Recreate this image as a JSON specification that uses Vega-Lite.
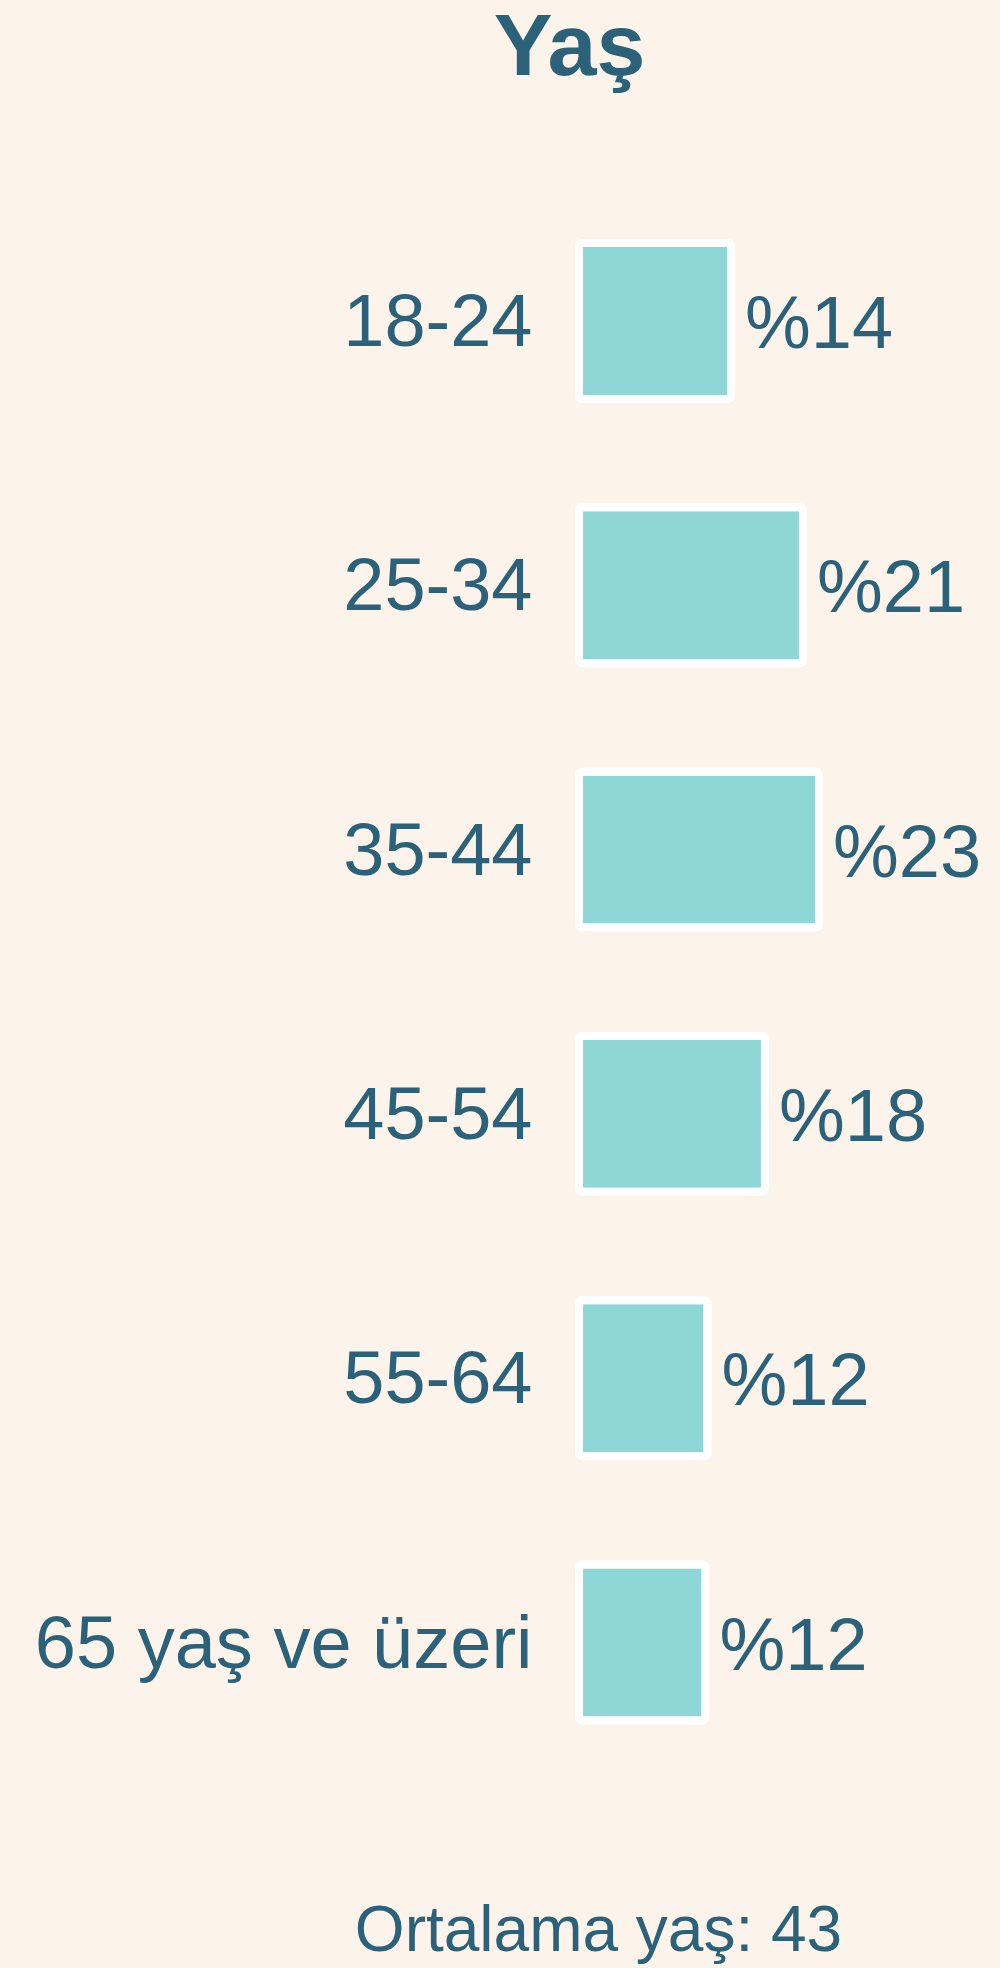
{
  "$schema": "https://vega.github.io/schema/vega-lite/v6.json",
  "autosize": {"type": "none"},
  "width": 421,
  "height": 1585.8,
  "padding": {"left": 579, "top": 188.85, "right": 0, "bottom": 193.35},
  "background": "#fcf4eb",
  "config": {"view": {"stroke": null}, "font": "Liberation Sans"},
  "title": {
    "text": "Yaş",
    "fontSize": 88,
    "fontWeight": "bold",
    "color": "#2c617a",
    "font": "Liberation Sans",
    "anchor": "middle",
    "frame": "group",
    "dx": -220,
    "baseline": "alphabetic",
    "offset": 26
  },
  "data": {
    "values": [
      {"grup": "18-24", "deger": 14.48, "etiket": "%14"},
      {"grup": "25-34", "deger": 21.33, "etiket": "%21"},
      {"grup": "35-44", "deger": 22.86, "etiket": "%23"},
      {"grup": "45-54", "deger": 17.71, "etiket": "%18"},
      {"grup": "55-64", "deger": 12.24, "etiket": "%12"},
      {"grup": "65 yaş ve üzeri", "deger": 12.05, "etiket": "%12"}
    ]
  },
  "encoding": {
    "y": {
      "field": "grup",
      "type": "nominal",
      "sort": null,
      "scale": {"paddingInner": 0.41, "paddingOuter": 0.205},
      "axis": {
        "title": null,
        "domain": false,
        "ticks": false,
        "grid": false,
        "labelFontSize": 74,
        "labelColor": "#2c617a",
        "labelFont": "Liberation Sans",
        "labelPadding": 47,
        "labelLimit": 0,
        "labelBaseline": "alphabetic",
        "labelOffset": 25
      }
    },
    "x": {
      "field": "deger",
      "type": "quantitative",
      "scale": {"domain": [0, 40.1], "nice": false, "zero": true},
      "axis": {
        "title": "Ortalama yaş: 43",
        "titleFontSize": 64,
        "titleFontWeight": "normal",
        "titleColor": "#2c617a",
        "titleFont": "Liberation Sans",
        "titleX": 19,
        "titleY": 175.4,
        "titleAlign": "center",
        "titleBaseline": "alphabetic",
        "domain": false,
        "ticks": false,
        "labels": false,
        "grid": false
      }
    }
  },
  "layer": [
    {
      "mark": {
        "type": "bar",
        "color": "#8fd7d6",
        "filled": true,
        "stroke": "#ffffff",
        "strokeWidth": 8,
        "cornerRadius": 3
      }
    },
    {
      "mark": {
        "type": "text",
        "align": "left",
        "baseline": "alphabetic",
        "dx": 14,
        "dy": 27,
        "fontSize": 74,
        "color": "#2c617a",
        "font": "Liberation Sans"
      },
      "encoding": {"text": {"field": "etiket"}}
    }
  ]
}
